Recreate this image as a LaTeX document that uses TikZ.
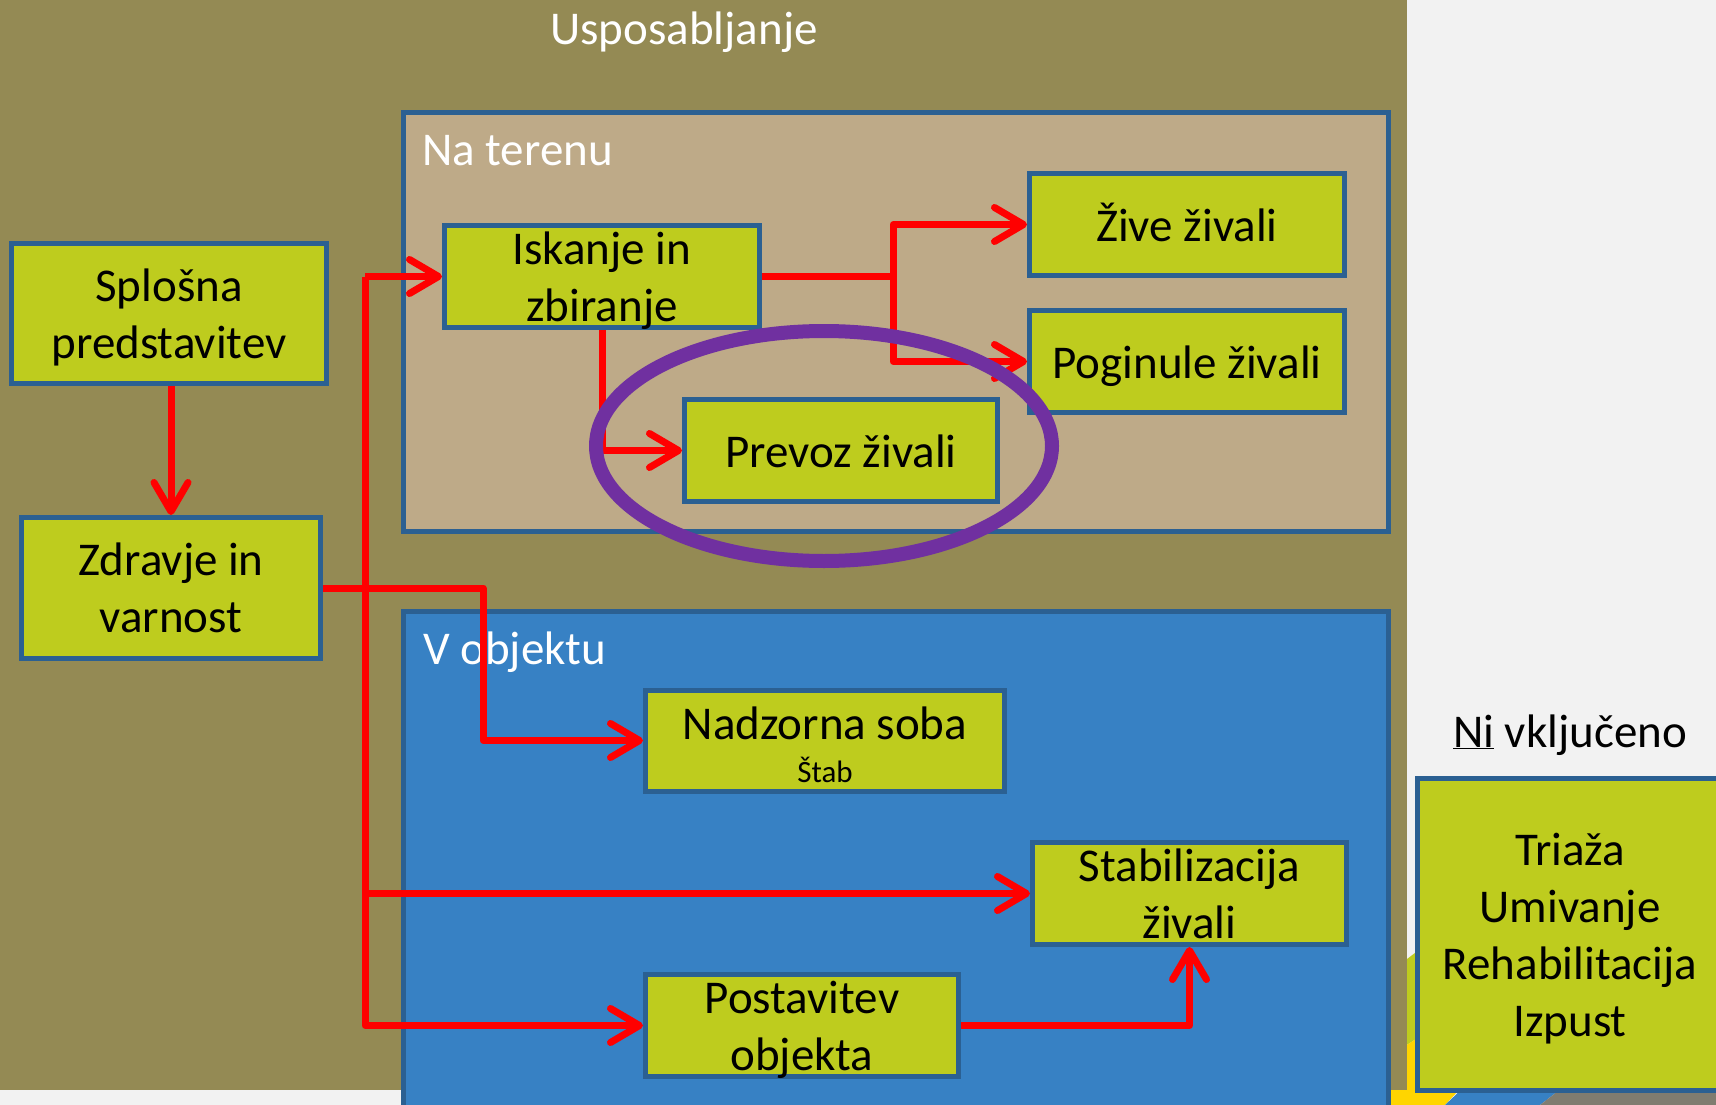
\documentclass[tikz,border=0pt]{standalone}
\usepackage{fontspec}
\setmainfont{Carlito}
\usetikzlibrary{arrows.meta}
\definecolor{cPage}{HTML}{F2F2F2}
\definecolor{cOlive}{HTML}{948A54}
\definecolor{cTan}{HTML}{BEAA88}
\definecolor{cBlueSec}{HTML}{3781C4}
\definecolor{cBorder}{HTML}{2B6092}
\definecolor{cLime}{HTML}{BECC1E}
\definecolor{cRed}{HTML}{FF0000}
\definecolor{cPurple}{HTML}{7030A0}
\definecolor{cYellow}{HTML}{FFD500}
\definecolor{cGrey}{HTML}{807C70}
\begin{document}
\begin{tikzpicture}[x=1pt,y=-1pt,
  box/.style={draw=cBorder, fill=cLime, line width=5pt, font=\fontsize{47}{57}\selectfont,
    align=center, inner sep=0pt, text=black, text depth=0pt},
  oneline/.style={text height=33pt},
  conn/.style={draw=cRed, line width=7pt, line join=round,
    -{Straight Barb[length=29pt,width=34pt,round]}},
  plainline/.style={draw=cRed, line width=7pt, line join=round},
  sectitle/.style={font=\fontsize{47}{57}\selectfont, text=white, inner sep=0pt},
  secbox/.style={draw=cBorder, line width=5pt}
]
\useasboundingbox (0,0) rectangle (1716,1105);
\clip (0,0) rectangle (1716,1105);
\fill[cPage] (0,0) rectangle (1716,1105);
% decorative stripes at the bottom right
\fill[cLime] (1390,972) -- (1445,930) -- (1445,1020) -- (1390,1056) -- cycle;
\fill[cYellow] (1390,1056) -- (1445,1020) -- (1470,1078) -- (1445,1105) -- (1390,1105) -- cycle;
\fill[cBlueSec] (1445,1105) -- (1463,1088) -- (1562,1088) -- (1540,1105) -- cycle;
\fill[cGrey] (1540,1105) -- (1562,1088) -- (1716,1088) -- (1716,1105) -- cycle;
% olive slide background
\fill[cOlive] (0,0) rectangle (1407,1090);

% section containers
\draw[secbox, fill=cTan] (403.5,112.5) rectangle (1388.5,531.5);
\draw[secbox, fill=cBlueSec] (403.5,611.5) rectangle (1388.5,1140);

\node[sectitle, anchor=base] (tUsp) at (684,45) {Usposabljanje};
\node[sectitle, anchor=base west] (tTer) at (422,165) {Na terenu};
\node[sectitle, anchor=base west] (tObj) at (423,664) {V objektu};
\node[font=\fontsize{47}{57}\selectfont, text=black, inner sep=0pt, anchor=base] (tNi) at (1570,747) {\underline{Ni} vključeno};

% boxes
\node[box, minimum width=315pt, minimum height=140pt] (Spl) at (169,313.5) {Splošna\\predstavitev};
\node[box, minimum width=299pt, minimum height=141pt] (Zdr) at (171,588) {Zdravje in\\varnost};
\node[box, minimum width=315pt, minimum height=102pt] (Isk) at (602,276.5) {Iskanje in\\zbiranje};
\node[box, oneline, minimum width=315pt, minimum height=102pt] (Ziv) at (1187,224.5) {Žive živali};
\node[box, oneline, minimum width=315pt, minimum height=102pt] (Pog) at (1187,361.5) {Poginule živali};
\node[box, oneline, minimum width=313pt, minimum height=102pt] (Prev) at (841,450.5) {Prevoz živali};
\node[box, text height=84pt, minimum width=359pt, minimum height=101pt] (Nad) at (825,740.5) {Nadzorna soba\\[-14pt]{\fontsize{31}{37}\selectfont Štab}};
\node[box, minimum width=314pt, minimum height=102pt] (Stab) at (1189.5,893.5) {Stabilizacija\\živali};
\node[box, minimum width=313pt, minimum height=102pt] (Post) at (802,1025.5) {Postavitev\\objekta};
\node[box, minimum width=305pt, minimum height=312pt] (Tri) at (1570,934.5) {Triaža\\Umivanje\\Rehabilitacija\\Izpust};

% connectors
\coordinate (tk) at (365,588);
\coordinate (zj) at (483,588);
\coordinate (br) at (893,276.5);
\draw[conn] (Spl.south -| Zdr.north) -- (Zdr.north);
\draw[conn] (Zdr.east) -- (zj) |- (Nad.west);
\draw[conn] (tk |- Isk.west) -- (Isk.west);
\draw[conn] (tk |- Isk.west) |- (Post.west);
\draw[conn] (tk |- Stab.west) -- (Stab.west);
\draw[plainline] (Isk.east) -- (br);
\draw[conn] (br) |- (Ziv.west);
\draw[conn] (br) |- (Pog.west);
\draw[conn] (Isk.south) |- (Prev.west);
\draw[conn] (Post.east) -| (Stab.south);

% highlight ellipse
\draw[cPurple, line width=14pt] (824,446) ellipse [x radius=228pt, y radius=115pt];
\end{tikzpicture}
\end{document}
